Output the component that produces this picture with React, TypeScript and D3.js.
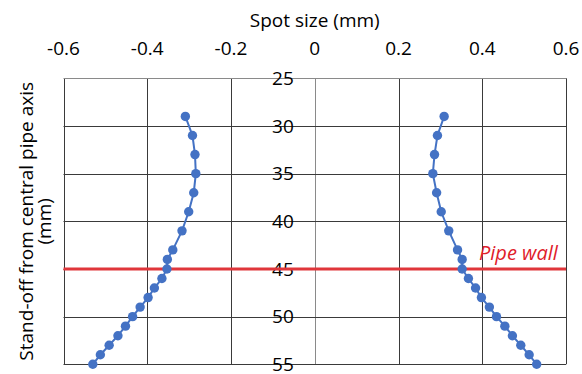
import React, { useEffect, useRef } from 'react';
import * as d3 from 'd3';

const depth = [29, 31, 33, 35, 37, 39, 41, 43, 44, 45, 46, 47, 48, 49, 50, 51, 52, 53, 54, 55];
const leftSpot = [-0.309, -0.292, -0.286, -0.284, -0.289, -0.301, -0.317, -0.339, -0.352, -0.353, -0.365, -0.383, -0.398, -0.417, -0.435, -0.452, -0.47, -0.491, -0.512, -0.53];
const rightSpot = [0.309, 0.293, 0.286, 0.282, 0.291, 0.302, 0.32, 0.341, 0.352, 0.352, 0.367, 0.384, 0.398, 0.417, 0.434, 0.454, 0.472, 0.492, 0.512, 0.53];
const xTicks = [-0.6, -0.4, -0.2, 0, 0.2, 0.4, 0.6];
const yTicks = [25, 30, 35, 40, 45, 50, 55];
const pipeWall = 45;

const font = '"Open Sans", Lato, sans-serif';

const App = () => {
    const ref = useRef<SVGSVGElement>(null);

    useEffect(() => {
        const svg = d3.select(ref.current);
        svg.selectAll('*').remove();

        const xScale = d3.scaleLinear().domain([-0.6, 0.6]).range([63.5, 566]);
        const yScale = d3.scaleLinear().domain([25, 55]).range([78.3, 364.3]);

        // grid
        const grid = svg.append('g').attr('class', 'grid');
        grid.selectAll('.vline')
            .data(xTicks)
            .enter()
            .append('line')
            .attr('x1', d => Math.round(xScale(d)) + 0.5)
            .attr('x2', d => Math.round(xScale(d)) + 0.5)
            .attr('y1', yScale(25))
            .attr('y2', yScale(55))
            .attr('stroke', d => (d === 0 ? '#8a8a8a' : '#3a3a3a'))
            .attr('stroke-width', 1);
        grid.selectAll('.hline')
            .data(yTicks)
            .enter()
            .append('line')
            .attr('x1', xScale(-0.6))
            .attr('x2', xScale(0.6))
            .attr('y1', d => Math.round(yScale(d)) + 0.5)
            .attr('y2', d => Math.round(yScale(d)) + 0.5)
            .attr('stroke', d => (d === 25 ? '#8a8a8a' : '#3a3a3a'))
            .attr('stroke-width', 1);

        // top axis labels
        svg.append('g')
            .selectAll('text')
            .data(xTicks)
            .enter()
            .append('text')
            .attr('x', d => xScale(d))
            .attr('y', 55)
            .attr('text-anchor', 'middle')
            .attr('font-family', font)
            .attr('font-size', 19)
            .attr('fill', '#000')
            .text(d => String(d));

        // y labels, next to the axis at x = 0
        svg.append('g')
            .selectAll('text')
            .data(yTicks)
            .enter()
            .append('text')
            .attr('x', xScale(0) - 21)
            .attr('y', d => yScale(d))
            .attr('dy', '0.35em')
            .attr('text-anchor', 'end')
            .attr('font-family', font)
            .attr('font-size', 19)
            .attr('fill', '#000')
            .text(d => d);

        // axis titles
        svg.append('text')
            .attr('x', xScale(0))
            .attr('y', 27)
            .attr('text-anchor', 'middle')
            .attr('font-family', font)
            .attr('font-size', 19)
            .text('Spot size (mm)');

        const yTitle = svg.append('text')
            .attr('transform', `translate(0, ${(yScale(25) + yScale(55)) / 2}) rotate(-90)`)
            .attr('text-anchor', 'middle')
            .attr('font-family', font)
            .attr('font-size', 19);
        yTitle.append('tspan').attr('x', 0).attr('y', 33).text('Stand-off from central pipe axis');
        yTitle.append('tspan').attr('x', 0).attr('y', 51).text('(mm)');

        // pipe wall
        svg.append('line')
            .attr('x1', xScale(-0.6))
            .attr('x2', xScale(0.6))
            .attr('y1', yScale(pipeWall))
            .attr('y2', yScale(pipeWall))
            .attr('stroke', '#e0363b')
            .attr('stroke-width', 3);

        svg.append('text')
            .attr('x', 479)
            .attr('y', yScale(pipeWall) - 8.5)
            .attr('font-family', font)
            .attr('font-style', 'italic')
            .attr('font-size', 20)
            .attr('fill', '#e0202a')
            .text('Pipe wall');

        // series
        const series = [leftSpot, rightSpot];
        const line_generator = d3.line<number>()
            .x(d => xScale(d))
            .y((d, i) => yScale(depth[i]));

        series.forEach(values => {
            svg.append('path')
                .attr('d', line_generator(values))
                .attr('fill', 'none')
                .attr('stroke', '#4472c4')
                .attr('stroke-width', 2);
            svg.append('g')
                .selectAll('circle')
                .data(values)
                .enter()
                .append('circle')
                .attr('cx', d => xScale(d))
                .attr('cy', (d, i) => yScale(depth[i]))
                .attr('r', 4.7)
                .attr('fill', '#4472c4');
        });
    }, []);

    return (
        <svg ref={ref} width={582} height={374} style={{ position: 'absolute', left: 0, top: 0, background: '#fff' }}></svg>
    );
};

export default App;
